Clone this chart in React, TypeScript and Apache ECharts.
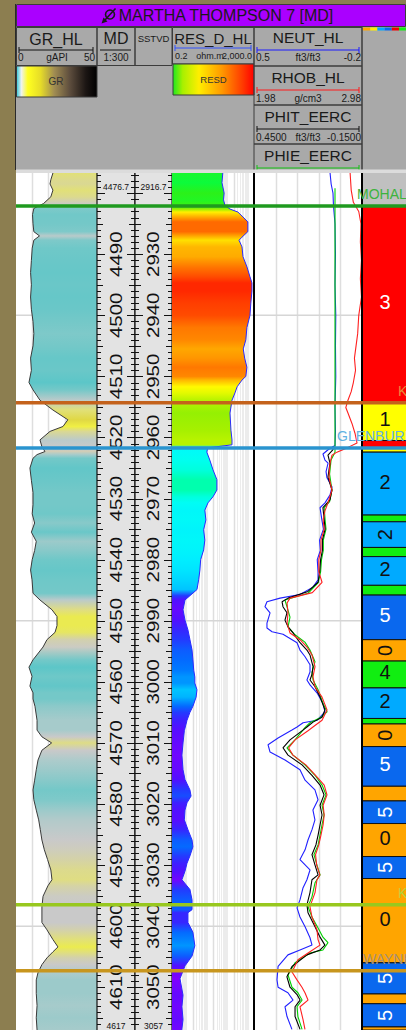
import { useEffect, useRef } from "react";
import * as echarts from "echarts";

const FONT = '"Liberation Sans", Arial, Helvetica, sans-serif';

// ---- depth window (MD, ft) ----
const mdTop = 4476.7;
const mdBase = 4617;
const sstvdShift = 1560; // MD - SSTVD
const mdLabels = [4490, 4500, 4510, 4520, 4530, 4540, 4550, 4560, 4570, 4580, 4590, 4600, 4610];
const sstvdLabels = [2930, 2940, 2950, 2960, 2970, 2980, 2990, 3000, 3010, 3020, 3030, 3040, 3050];
const depthGridLines = [4500, 4550, 4600];

// ---- curves: [MD, value] ----
const grLog: [number, number][] = [
  [4476.7, 22.8], [4477.8, 21.5], [4478.5, 21.0], [4479.5, 22.8], [4480.6, 21.5], [4481.7, 17.0],
  [4482.5, 11.0], [4483.5, 10.2], [4485.0, 10.5], [4486.3, 11.0], [4487.0, 14.5], [4487.7, 11.0],
  [4489.0, 10.0], [4491.0, 9.5], [4493.0, 9.0], [4495.0, 9.5], [4497.0, 9.0], [4499.0, 9.5],
  [4501.0, 10.5], [4503.0, 11.0], [4505.0, 10.5], [4507.0, 9.0], [4509.0, 9.5], [4511.0, 8.0],
  [4512.2, 10.5], [4513.9, 14.8], [4515.5, 22.8], [4517.1, 32.0], [4518.2, 29.0], [4519.0, 21.0],
  [4520.4, 14.8], [4521.5, 16.0], [4522.3, 17.9], [4522.8, 13.0], [4523.4, 10.5], [4525.0, 8.6],
  [4527.0, 9.5], [4529.0, 10.5], [4531.0, 10.5], [4532.5, 10.0], [4534.0, 11.5], [4535.5, 9.5],
  [4537.0, 12.5], [4538.5, 11.5], [4540.0, 10.0], [4541.7, 9.0], [4543.3, 9.9], [4545.5, 10.5],
  [4546.6, 14.8], [4548.2, 22.2], [4549.3, 25.3], [4550.8, 25.3], [4551.9, 24.1], [4553.1, 19.1],
  [4554.3, 16.7], [4556.4, 10.5], [4557.6, 8.0], [4559.1, 9.9], [4560.7, 8.6], [4561.8, 10.5],
  [4562.8, 10.5], [4564.0, 11.7], [4566.3, 13.0], [4567.9, 13.0], [4569.0, 16.0], [4570.0, 22.0],
  [4571.2, 16.0], [4572.8, 13.6], [4574.4, 12.5], [4576.1, 11.5], [4577.7, 10.5], [4579.3, 11.0],
  [4581.0, 12.5], [4582.6, 14.0], [4584.2, 15.0], [4585.9, 16.0], [4587.5, 17.5], [4589.1, 19.5],
  [4590.8, 21.5], [4592.4, 22.2], [4593.4, 19.7], [4595.1, 16.7], [4596.8, 16.0], [4599.4, 16.0],
  [4600.6, 19.1], [4602.2, 22.8], [4603.4, 25.9], [4604.2, 22.8], [4605.2, 19.1], [4606.3, 16.0],
  [4607.6, 13.6], [4608.8, 12.5], [4611.0, 12.5], [4613.0, 13.0], [4615.0, 12.5], [4617.0, 13.0],
];

const resLog: [number, number][] = [
  [4476.7, 60], [4478.3, 55], [4480.0, 70], [4481.1, 65], [4482.0, 77], [4482.6, 135], [4483.1, 330],
  [4483.9, 580], [4484.7, 1000], [4486.3, 1000], [4487.2, 520], [4487.7, 372], [4488.8, 520],
  [4490.4, 580], [4492.1, 914], [4493.7, 1276], [4494.7, 1590], [4496.0, 1590], [4498.0, 1400],
  [4500.0, 1276], [4502.0, 900], [4504.0, 800], [4505.5, 600], [4507.0, 700], [4508.5, 900],
  [4510.0, 800], [4510.6, 520], [4511.7, 300], [4512.7, 236], [4513.9, 169], [4516.0, 135],
  [4518.8, 150], [4520.4, 169], [4521.2, 169], [4521.7, 11], [4522.4, 10], [4523.7, 14], [4525.3, 20],
  [4526.9, 31], [4528.6, 31], [4529.7, 20], [4530.7, 11.4], [4531.9, 8], [4533.5, 9], [4535.1, 7],
  [4536.8, 8], [4538.4, 7], [4540.0, 5], [4541.7, 4.6], [4543.3, 4], [4544.9, 3.3], [4545.9, 1.5],
  [4546.6, 0.86], [4548.2, 0.69], [4549.9, 0.86], [4551.5, 1.2], [4553.1, 1.5], [4554.8, 1.9],
  [4556.4, 2.1], [4558.1, 2.3], [4559.2, 2.6], [4560.2, 2.6], [4561.3, 3.3], [4562.5, 3.0],
  [4564.0, 2.1], [4565.0, 1.5], [4566.3, 1.08], [4568.0, 0.8], [4570.0, 0.69], [4572.0, 0.61],
  [4574.4, 0.69], [4576.0, 0.86], [4577.7, 1.5], [4578.7, 1.7], [4579.8, 1.08], [4581.0, 0.86],
  [4582.6, 0.8], [4584.2, 1.2], [4585.9, 1.9], [4587.0, 2.1], [4588.5, 1.5], [4589.7, 1.08],
  [4591.0, 0.86], [4592.4, 0.61], [4594.0, 1.5], [4595.7, 1.9], [4597.3, 1.9], [4597.8, 1.2],
  [4599.4, 1.2], [4601.0, 2.1], [4603.2, 2.6], [4604.9, 1.9], [4606.5, 0.86], [4608.6, 0.49],
  [4611.3, 0.69], [4613.2, 0.61], [4615.3, 0.69], [4617.0, 0.6],
];

const neutLog: [number, number][] = [
  [4476.7, 0.007], [4478.5, 0.0], [4480.0, -0.012], [4482.0, -0.015], [4485.0, -0.025], [4490.0, -0.028],
  [4495.0, -0.025], [4500.0, -0.03], [4505.0, -0.028], [4510.0, -0.03], [4515.0, -0.025], [4519.0, -0.028],
  [4521.3, -0.025], [4522.0, 0.02], [4522.7, 0.053], [4523.7, 0.04], [4524.2, 0.02], [4525.6, 0.033],
  [4526.6, 0.027], [4528.1, -0.006], [4529.4, 0.007], [4530.7, 0.04], [4531.5, 0.072], [4533.5, 0.06],
  [4535.0, 0.05], [4536.8, 0.075], [4538.5, 0.07], [4540.0, 0.09], [4542.0, 0.085], [4543.3, 0.085],
  [4544.5, 0.118], [4545.7, 0.202], [4546.3, 0.331], [4546.9, 0.416], [4547.7, 0.429], [4548.7, 0.396],
  [4550.4, 0.416], [4551.2, 0.416], [4551.8, 0.383], [4552.2, 0.312], [4552.7, 0.28], [4553.6, 0.221],
  [4554.8, 0.202], [4555.9, 0.169], [4557.2, 0.137], [4558.4, 0.137], [4559.7, 0.157], [4560.5, 0.137],
  [4561.8, 0.092], [4563.5, 0.053], [4564.9, 0.04], [4566.3, 0.092], [4566.7, 0.182], [4567.4, 0.221],
  [4567.9, 0.254], [4569.2, 0.344], [4570.3, 0.409], [4571.5, 0.396], [4572.8, 0.299], [4574.4, 0.202],
  [4576.1, 0.169], [4577.7, 0.105], [4579.3, 0.085], [4581.0, 0.118], [4582.6, 0.105], [4584.2, 0.124],
  [4585.9, 0.15], [4587.5, 0.169], [4589.1, 0.202], [4590.8, 0.137], [4592.4, 0.157], [4593.7, 0.182],
  [4595.7, 0.202], [4597.0, 0.221], [4598.5, 0.202], [4600.1, 0.169], [4601.9, 0.137], [4603.1, 0.124],
  [4603.9, 0.202], [4604.7, 0.28], [4606.6, 0.344], [4608.8, 0.351], [4610.0, 0.344], [4610.9, 0.28],
  [4612.1, 0.247], [4613.2, 0.299], [4614.8, 0.286], [4616.9, 0.254],
];

const rhobLog: [number, number][] = [
  [4476.7, 2.87], [4479.5, 2.88], [4481.5, 2.9], [4483.0, 2.95], [4485.0, 2.97], [4488.0, 2.965],
  [4491.0, 2.975], [4494.0, 2.965], [4497.0, 2.975], [4500.0, 2.95], [4503.0, 2.94], [4505.0, 2.925],
  [4507.0, 2.91], [4509.0, 2.92], [4511.0, 2.9], [4512.5, 2.88], [4513.9, 2.85], [4515.1, 2.83],
  [4516.0, 2.85], [4517.7, 2.887], [4519.3, 2.915], [4520.9, 2.934], [4521.7, 2.841], [4522.4, 2.748],
  [4522.9, 2.702], [4524.2, 2.684], [4526.5, 2.674], [4528.6, 2.702], [4530.7, 2.665], [4532.0, 2.637],
  [4533.5, 2.62], [4535.0, 2.63], [4536.8, 2.6], [4538.5, 2.6], [4540.0, 2.58], [4542.0, 2.58],
  [4543.7, 2.61], [4545.4, 2.52], [4546.3, 2.313], [4547.1, 2.286], [4548.7, 2.295], [4550.4, 2.286],
  [4552.0, 2.313], [4553.1, 2.406], [4554.3, 2.471], [4555.6, 2.517], [4557.5, 2.545], [4559.2, 2.526],
  [4560.8, 2.545], [4562.5, 2.61], [4564.6, 2.656], [4566.3, 2.61], [4567.4, 2.526], [4568.0, 2.48],
  [4569.5, 2.36], [4570.8, 2.3], [4572.0, 2.34], [4573.6, 2.46], [4575.3, 2.55], [4576.9, 2.63],
  [4578.5, 2.656], [4580.2, 2.62], [4581.8, 2.63], [4583.4, 2.62], [4585.1, 2.6], [4586.7, 2.58],
  [4588.3, 2.55], [4590.0, 2.56], [4591.6, 2.59], [4592.4, 2.563], [4594.5, 2.545], [4596.8, 2.498],
  [4598.5, 2.517], [4600.6, 2.563], [4602.2, 2.573], [4603.1, 2.591], [4604.2, 2.498], [4605.5, 2.387],
  [4607.5, 2.332], [4608.8, 2.378], [4610.0, 2.424], [4610.9, 2.452], [4612.1, 2.48], [4613.2, 2.406],
  [4615.3, 2.434], [4616.9, 2.452],
];

const phitLog: [number, number][] = [
  [4521.5, 0.011], [4522.0, 0.011], [4522.9, 0.039], [4524.2, 0.028], [4526.5, 0.039], [4528.6, 0.017],
  [4530.2, 0.028], [4531.5, 0.067], [4533.5, 0.06], [4535.0, 0.055], [4536.8, 0.07], [4538.5, 0.07],
  [4540.0, 0.08], [4542.0, 0.085], [4543.7, 0.094], [4545.2, 0.15], [4546.3, 0.261], [4546.9, 0.294],
  [4547.7, 0.289], [4548.7, 0.267], [4549.9, 0.278], [4551.0, 0.261], [4552.0, 0.233], [4553.6, 0.194],
  [4554.8, 0.156], [4555.6, 0.139], [4557.5, 0.122], [4558.8, 0.128], [4559.7, 0.139], [4560.8, 0.111],
  [4562.5, 0.083], [4564.6, 0.056], [4565.8, 0.072], [4566.6, 0.122], [4567.4, 0.156], [4567.9, 0.178],
  [4569.5, 0.25], [4570.8, 0.289], [4572.0, 0.261], [4573.6, 0.183], [4575.3, 0.128], [4576.9, 0.083],
  [4578.5, 0.061], [4580.2, 0.083], [4581.8, 0.072], [4583.4, 0.083], [4585.1, 0.094], [4586.7, 0.106],
  [4588.3, 0.128], [4590.0, 0.111], [4591.6, 0.094], [4592.4, 0.128], [4594.5, 0.139], [4596.5, 0.156],
  [4597.8, 0.15], [4600.1, 0.111], [4601.8, 0.083], [4603.1, 0.056], [4603.9, 0.083], [4604.7, 0.156],
  [4606.6, 0.239], [4608.3, 0.267], [4610.0, 0.25], [4611.2, 0.211], [4612.1, 0.194], [4613.2, 0.222],
  [4614.8, 0.222], [4616.9, 0.194],
];

const phieLog: [number, number][] = [
  [4479.2, 0.0], [4521.6, 0.0], [4522.4, 0.0], [4523.7, 0.022], [4526.0, 0.03], [4528.6, 0.017],
  [4530.5, 0.03], [4531.5, 0.06], [4533.5, 0.055], [4535.0, 0.05], [4536.8, 0.065], [4538.5, 0.065],
  [4540.0, 0.075], [4542.0, 0.08], [4543.8, 0.094], [4545.5, 0.15], [4546.6, 0.278], [4547.7, 0.267],
  [4549.4, 0.25], [4551.0, 0.261], [4552.3, 0.222], [4553.5, 0.167], [4554.8, 0.139], [4556.7, 0.111],
  [4558.4, 0.128], [4559.7, 0.122], [4561.3, 0.094], [4563.5, 0.067], [4564.9, 0.044], [4565.9, 0.083],
  [4566.7, 0.139], [4567.5, 0.167], [4569.5, 0.222], [4570.8, 0.267], [4572.0, 0.233], [4573.6, 0.167],
  [4575.3, 0.111], [4576.9, 0.072], [4578.5, 0.05], [4580.2, 0.072], [4581.8, 0.061], [4583.4, 0.072],
  [4585.1, 0.083], [4586.7, 0.094], [4588.3, 0.117], [4590.0, 0.1], [4591.6, 0.083], [4592.9, 0.111],
  [4595.2, 0.128], [4596.8, 0.15], [4598.5, 0.128], [4600.3, 0.094], [4601.8, 0.067], [4602.7, 0.039],
  [4603.9, 0.067], [4604.4, 0.139], [4606.0, 0.222], [4608.0, 0.261], [4610.0, 0.239], [4610.9, 0.206],
  [4612.1, 0.183], [4613.2, 0.211], [4614.8, 0.206], [4616.9, 0.183],
];

// ---- zonation (top MD, code; -1 = unzoned) ----
const zoneTop = [
  4476.7, 4482.1, 4514.2, 4520.5, 4521.7, 4522.4, 4532.7, 4533.8, 4538.0, 4539.5, 4544.2, 4545.8, 4553.1,
  4556.6, 4561.0, 4566.0, 4566.9, 4570.6, 4577.1, 4579.5, 4583.2, 4588.6, 4592.2, 4606.0, 4611.1, 4612.7,
  4616.5,
];
const zoneCode = [-1, 3, 1, 3, 1, 2, 4, 2, 4, 2, 4, 5, 0, 4, 2, 4, 0, 5, 0, 5, 0, 5, 0, 5, 0, 5, 0];
const turnedZoneLabels = [7, 12, 16, 19, 21, 23, 25];

// ---- formation tops ----
const topName = ["MOHALL", "K", "GLENBURN", "K", "WAYNE"];
const topDepth = [4482.1, 4514.3, 4521.7, 4596.5, 4607.3];
const topLineColor = ["#1f9a1f", "#c4621c", "#2a94cf", "#98c81e", "#c8961e"];
const topTextColor = ["#3db33d", "#e88a3c", "#62b2e2", "#b4d23c", "#a89078"];
const topLabelX = [357, 398, 337, 398, 363];

// ---- colour ramps ----
const grRamp: [number, string][] = [
  [0, "#3cc4cc"], [8, "#5cc6c8"], [10.5, "#74c8c8"], [13, "#a6cbcb"], [16, "#c9c9c9"], [19, "#d2d0ae"],
  [22, "#dedc86"], [25, "#eaea52"], [30, "#f2f040"], [38, "#a89050"], [50, "#0c0c0c"],
];
const resRamp: [number, string][] = [
  [0, "#9000ff"], [0.1, "#8000ff"], [0.16, "#5010ff"], [0.21, "#2a30ff"], [0.26, "#0070ff"], [0.3, "#00c0ff"],
  [0.35, "#00eeff"], [0.45, "#00fff4"], [0.51, "#00ffd8"], [0.56, "#00ffa0"], [0.6, "#00ff48"],
  [0.64, "#30f014"], [0.72, "#a8f000"], [0.79, "#ffff00"], [0.85, "#ffbb00"], [0.9, "#ff8800"],
  [0.96, "#ff4000"], [1, "#ff0000"],
];
const zonePalette: Record<number, { fill: string; text: string }> = {
  [-1]: { fill: "#c0c0c0", text: "#111" },
  0: { fill: "#ffa500", text: "#111" },
  1: { fill: "#ffff00", text: "#111" },
  2: { fill: "#00aaff", text: "#111" },
  3: { fill: "#ff0000", text: "#fff" },
  4: { fill: "#11ee11", text: "#111" },
  5: { fill: "#0a68ee", text: "#fff" },
};

function hexRgb(h: string) {
  const n = parseInt(h.slice(1), 16);
  return [(n >> 16) & 255, (n >> 8) & 255, n & 255];
}
function rampColor(stops: [number, string][], v: number) {
  if (v <= stops[0][0]) return stops[0][1];
  for (let i = 1; i < stops.length; i++) {
    if (v <= stops[i][0]) {
      const t = (v - stops[i - 1][0]) / (stops[i][0] - stops[i - 1][0]);
      const a = hexRgb(stops[i - 1][1]);
      const b = hexRgb(stops[i][1]);
      const c = a.map((x, k) => Math.round(x + (b[k] - x) * t));
      return `rgb(${c[0]},${c[1]},${c[2]})`;
    }
  }
  return stops[stops.length - 1][1];
}
const grColor = (v: number) => rampColor(grRamp, v);
const resColor = (v: number) => rampColor(resRamp, (Math.log10(v) - Math.log10(0.2)) / 4);

// ---- layout ----
const TRACK_Y = 173;
const TRACK_H = 860;
const tracks = [
  { left: 16, width: 81 }, // GR
  { left: 97, width: 38 }, // MD
  { left: 135, width: 37 }, // SSTVD
  { left: 172, width: 82 }, // resistivity
  { left: 254, width: 108 }, // porosity / density
  { left: 362, width: 44 }, // zonation
];

const vline = (x: number, y1: number, y2: number, stroke: string, lineWidth = 1) => ({
  type: "line", shape: { x1: x, y1, x2: x, y2 }, style: { stroke, lineWidth },
});
const hline = (x1: number, x2: number, y: number, stroke: string, lineWidth = 1) => ({
  type: "line", shape: { x1, y1: y, x2, y2: y }, style: { stroke, lineWidth },
});

// background + grid of a curve track
function trackGrid(xValues: number[], minorValues: number[] = []) {
  return (params: any, api: any) => {
    const cs = params.coordSys;
    const ch: any[] = [
      { type: "rect", shape: { x: cs.x, y: cs.y, width: cs.width, height: cs.height }, style: { fill: "#ffffff" } },
    ];
    minorValues.forEach((v) => {
      const x = Math.round(api.coord([v, mdTop])[0]) + 0.5;
      ch.push(vline(x, cs.y, cs.y + cs.height, "#ececec", 1));
    });
    xValues.forEach((v) => {
      const x = Math.round(api.coord([v, mdTop])[0]) + 0.5;
      ch.push(vline(x, cs.y, cs.y + cs.height, "#dedede", 1.5));
    });
    depthGridLines.forEach((d) => {
      const y = api.coord([xValues[0], d])[1];
      ch.push(hline(cs.x, cs.x + cs.width, y, "#d6d6d6", 1.5));
    });
    return { type: "group", children: ch };
  };
}

// area between a curve and a track edge, shaded by the curve value along depth
function curveFill(log: [number, number][], edgeValue: number, color: (v: number) => string) {
  return (params: any, api: any) => {
    const pts = log.map(([d, v]) => api.coord([v, d]));
    const edge = api.coord([edgeValue, log[0][0]])[0];
    const yA = pts[0][1];
    const yB = pts[pts.length - 1][1];
    const colorStops = log.map(([, v], i) => ({
      offset: Math.min(1, Math.max(0, (pts[i][1] - yA) / (yB - yA))),
      color: color(v),
    }));
    return {
      type: "polygon",
      shape: { points: [[edge, yA], ...pts, [edge, yB]] },
      style: { fill: new echarts.graphic.LinearGradient(0, yA, 0, yB, colorStops, true), lineWidth: 0 },
    };
  };
}

function curve(log: [number, number][], xAxisIndex: number, yAxisIndex: number, color: string, width = 1, z = 4) {
  return {
    type: "line", xAxisIndex, yAxisIndex, data: log.map(([d, v]) => [v, d]),
    showSymbol: false, symbol: "none", silent: true, z, lineStyle: { color, width },
  };
}

// depth index track: ticks each foot, rotated labels each 10 ft
function depthTrack(labels: number[], shift: number, topText: string, baseText: string) {
  return (params: any, api: any) => {
    const cs = params.coordSys;
    const x0 = cs.x;
    const x1 = cs.x + cs.width;
    const cx = x0 + cs.width / 2;
    const ch: any[] = [
      { type: "rect", shape: { x: x0, y: cs.y, width: cs.width, height: cs.height }, style: { fill: "#e3e3e3" } },
    ];
    for (let d = Math.ceil(mdTop); d <= Math.floor(mdBase); d++) {
      const y = Math.round(api.coord([0, d])[1]) + 0.5;
      const len = d % 10 === 0 ? 8 : d % 5 === 0 ? 6 : 4;
      ch.push(hline(x0, x0 + len, y, "#111", 1));
      ch.push(hline(x1 - len, x1, y, "#111", 1));
    }
    ch.push(vline(x0, cs.y, cs.y + cs.height, "#111", 1.2));
    ch.push(vline(x1, cs.y, cs.y + cs.height, "#111", 1.2));
    labels.forEach((l) => {
      const y = api.coord([0, l + shift])[1];
      ch.push({
        type: "text", x: cx, y, rotation: Math.PI / 2, scaleX: 1.28,
        style: { text: String(l), font: `16px ${FONT}`, fill: "#111", align: "center", verticalAlign: "middle" },
      });
    });
    ch.push({
      type: "text", x: cx, y: cs.y + 13.5,
      style: { text: topText, font: `8.5px ${FONT}`, fill: "#111", align: "center", verticalAlign: "middle" },
    });
    ch.push({
      type: "text", x: cx, y: 1026,
      style: { text: baseText, font: `8.5px ${FONT}`, fill: "#111", align: "center", verticalAlign: "middle" },
    });
    return { type: "group", children: ch };
  };
}

function headerGraphics() {
  const els: any[] = [];
  const rect = (x: number, y: number, w: number, h: number, fill: any, stroke = "none", lw = 1) =>
    els.push({ type: "rect", shape: { x, y, width: w, height: h }, style: { fill, stroke, lineWidth: lw }, silent: true });
  const txt = (x: number, y: number, text: string, size: number, align = "center", fill = "#1a1a1a") =>
    els.push({
      type: "text", x, y, silent: true,
      style: { text, font: `${size}px ${FONT}`, fill, align, verticalAlign: "middle" },
    });
  const ln = (x1: number, y1: number, x2: number, y2: number, stroke: string, lw = 1) =>
    els.push({ type: "line", shape: { x1, y1, x2, y2 }, style: { stroke, lineWidth: lw }, silent: true });
  const scale = (x1: number, x2: number, y: number, color: string) => {
    ln(x1, y, x2, y, color, 1);
    ln(x1, y - 3, x1, y + 3, color, 1);
    ln(x2, y - 3, x2, y + 3, color, 1);
  };
  const border = "#3c3c3c";

  // frame
  rect(0, 0, 16, 1030, "#8c7e50");
  rect(0, 0, 406, 4, "#8c7e50");
  rect(16, 4, 390, 169, "#a9a9a9");
  ln(15.5, 4, 15.5, 170, "#2a2a2a", 1);

  // title
  rect(16.5, 4.5, 389, 22, "#aa00ff", border, 1);
  els.push({ type: "circle", shape: { cx: 110, cy: 14.5, r: 4.5 }, style: { fill: "none", stroke: "#1a1a1a", lineWidth: 1.6 }, silent: true });
  ln(104.5, 20.5, 115.5, 8.5, "#1a1a1a", 1.6);
  els.push({ type: "polygon", shape: { points: [[101.5, 23.5], [107.5, 21.5], [103.5, 17.5]] }, style: { fill: "#1a1a1a" }, silent: true });
  txt(226, 15.5, "MARTHA THOMPSON 7 [MD]", 16);

  // GR
  rect(16.5, 27.5, 80.5, 38, "none", border);
  txt(56, 39.5, "GR_HL", 16);
  scale(19, 93, 50, "#111");
  txt(18, 57.5, "0", 10, "left");
  txt(57, 57.5, "gAPI", 10);
  txt(95, 57.5, "50", 10, "right");
  rect(16.5, 66, 80.5, 31, {
    type: "linear", x: 0, y: 0, x2: 1, y2: 0,
    colorStops: [
      { offset: 0, color: "#30c8d8" }, { offset: 0.06, color: "#eef2f2" }, { offset: 0.14, color: "#ffff20" },
      { offset: 0.3, color: "#e6dc28" }, { offset: 0.47, color: "#a08c52" }, { offset: 0.66, color: "#5e4e3e" },
      { offset: 0.86, color: "#1c1614" }, { offset: 1, color: "#000000" },
    ],
  }, border);
  txt(56, 81.5, "GR", 10, "center", "#333");

  // MD / SSTVD
  rect(97, 27.5, 38, 38, "none", border);
  txt(116, 38, "MD", 16);
  ln(100, 50, 131, 50, "#111", 1);
  txt(116, 57.5, "1:300", 10);
  rect(135, 27.5, 37, 38, "none", border);
  txt(153.5, 38.5, "SSTVD", 9.5);

  // resistivity
  rect(172.5, 27.5, 81.5, 36.5, "none", border);
  txt(213, 38, "RES_D_HL", 15);
  scale(175, 251, 48, "#3050ff");
  txt(175, 56, "0.2", 9, "left");
  txt(210, 56, "ohm.m", 9);
  txt(252, 56, "2,000.0", 9, "right");
  rect(173, 64, 81, 31, {
    type: "linear", x: 0, y: 0, x2: 1, y2: 0,
    colorStops: [
      { offset: 0, color: "#20e820" }, { offset: 0.12, color: "#a8f000" }, { offset: 0.32, color: "#ffee00" },
      { offset: 0.6, color: "#ff9a00" }, { offset: 0.86, color: "#ff3a00" }, { offset: 1, color: "#ff0000" },
    ],
  }, border);
  txt(213.5, 79.5, "RESD", 9.5, "center", "#333");

  // porosity / density
  rect(254, 27.5, 108, 38.5, "none", border);
  txt(308, 37.5, "NEUT_HL", 15.5);
  scale(257, 359, 50, "#1a1aff");
  txt(256, 57.5, "0.5", 10, "left");
  txt(308, 57.5, "ft3/ft3", 10);
  txt(361, 57.5, "-0.2", 10, "right");
  rect(254, 66, 108, 39, "none", border);
  txt(308, 77, "RHOB_HL", 15.5);
  scale(257, 359, 90, "#ff1a1a");
  txt(256, 98, "1.98", 10, "left");
  txt(308, 98, "g/cm3", 10);
  txt(361, 98, "2.98", 10, "right");
  rect(254, 105, 108, 39, "none", border);
  txt(308, 116.5, "PHIT_EERC", 15.5);
  scale(257, 359, 129, "#111");
  txt(256, 137, "0.4500", 10, "left");
  txt(308, 137, "ft3/ft3", 10);
  txt(361, 137, "-0.1500", 10, "right");
  rect(254, 144, 108, 27, "none", border);
  txt(308, 155.5, "PHIE_EERC", 15.5);
  scale(257, 359, 168, "#10c010");

  // zonation header
  ln(362, 27, 362, 170, border, 1);
  const legend = ["#ffa500", "#ffee00", "#00aaff", "#0a68ee", "#ee0000", "#11ee11"];
  legend.forEach((c, i) => rect(363 + i * 7.2, 27.5, 7.2, 3, c));

  // strip between header and tracks
  rect(16, 169.5, 390, 3.5, "#dcdcdc");
  return els;
}

function buildOption(): any {
  const grid = tracks.map((t) => ({ left: t.left, top: TRACK_Y, width: t.width, height: TRACK_H }));
  const yAxis = tracks.map((_, i) => ({
    type: "value", gridIndex: i, min: mdTop, max: mdBase, inverse: true, show: false,
  }));
  const xAxis = [
    { type: "value", gridIndex: 0, min: 0, max: 50, show: false }, // GR
    { type: "value", gridIndex: 1, min: 0, max: 1, show: false }, // MD
    { type: "value", gridIndex: 2, min: 0, max: 1, show: false }, // SSTVD
    { type: "log", gridIndex: 3, min: 0.2, max: 2000, logBase: 10, show: false }, // RES_D
    { type: "value", gridIndex: 4, min: -0.2, max: 0.5, inverse: true, show: false }, // NEUT
    { type: "value", gridIndex: 4, min: 1.98, max: 2.98, show: false }, // RHOB
    { type: "value", gridIndex: 4, min: -0.15, max: 0.45, inverse: true, show: false }, // PHIT / PHIE
    { type: "value", gridIndex: 5, min: 0, max: 1, show: false }, // zones
  ];

  const resMinor: number[] = [];
  const resMajor: number[] = [];
  for (let k = -1; k <= 3; k++) {
    for (let m = 1; m <= 9; m++) {
      const v = m * Math.pow(10, k);
      if (v <= 0.2 || v >= 2000) continue;
      if (m === 2) resMajor.push(v);
      else resMinor.push(v);
    }
  }

  const series: any[] = [
    // GR track
    { type: "custom", xAxisIndex: 0, yAxisIndex: 0, data: [[0, mdTop]], silent: true, z: 1, renderItem: trackGrid([10, 20, 30, 40]) },
    { type: "custom", xAxisIndex: 0, yAxisIndex: 0, data: [[0, mdTop]], silent: true, z: 2, renderItem: curveFill(grLog, 50, grColor) },
    curve(grLog, 0, 0, "#3a3a3a", 1),
    // depth tracks
    { type: "custom", xAxisIndex: 1, yAxisIndex: 1, data: [[0, mdTop]], silent: true, z: 2, renderItem: depthTrack(mdLabels, 0, "4476.7", "4617") },
    { type: "custom", xAxisIndex: 2, yAxisIndex: 2, data: [[0, mdTop]], silent: true, z: 2, renderItem: depthTrack(sstvdLabels, sstvdShift, "2916.7", "3057") },
    // resistivity
    { type: "custom", xAxisIndex: 3, yAxisIndex: 3, data: [[1, mdTop]], silent: true, z: 1, renderItem: trackGrid(resMajor, resMinor) },
    { type: "custom", xAxisIndex: 3, yAxisIndex: 3, data: [[1, mdTop]], silent: true, z: 2, renderItem: curveFill(resLog, 0.2, resColor) },
    curve(resLog, 3, 3, "#2a2aff", 1),
    // porosity / density
    { type: "custom", xAxisIndex: 4, yAxisIndex: 4, data: [[0, mdTop]], silent: true, z: 1, renderItem: trackGrid([0.36, 0.22, 0.08, -0.06]) },
    curve(neutLog, 4, 4, "#2020ff", 1.1),
    curve(phieLog, 6, 4, "#00d000", 1.1),
    curve(phitLog, 6, 4, "#000000", 1.1),
    curve(rhobLog, 5, 4, "#ff2020", 1.1),
    // track borders
    {
      type: "custom", xAxisIndex: 4, yAxisIndex: 4, data: [[0, mdTop]], silent: true, z: 6,
      renderItem: (params: any) => {
        const cs = params.coordSys;
        return {
          type: "group",
          children: [
            vline(cs.x, cs.y, cs.y + cs.height, "#000", 2),
            vline(cs.x + cs.width, cs.y, cs.y + cs.height, "#000", 2),
          ],
        };
      },
    },
    // zonation
    {
      type: "custom", xAxisIndex: 7, yAxisIndex: 5, silent: true, z: 3,
      data: zoneTop.map((t, i) => [0.5, t, i]),
      renderItem: (params: any, api: any) => {
        const i = api.value(2);
        const top = zoneTop[i];
        const base = i + 1 < zoneTop.length ? zoneTop[i + 1] : mdBase;
        const p0 = api.coord([0, top]);
        const p1 = api.coord([1, base]);
        const code = zoneCode[i];
        const pal = zonePalette[code];
        const h = p1[1] - p0[1];
        const ch: any[] = [
          {
            type: "rect", shape: { x: p0[0] + 0.5, y: p0[1], width: p1[0] - p0[0], height: h },
            style: { fill: pal.fill, stroke: code < 0 ? "none" : "#111", lineWidth: 1 },
          },
        ];
        if (code >= 0 && h >= 18) {
          const turned = turnedZoneLabels.includes(i);
          ch.push({
            type: "text", x: (p0[0] + p1[0]) / 2 + 1, y: (p0[1] + p1[1]) / 2 - (turned ? 0 : 2),
            rotation: turned ? Math.PI / 2 : 0,
            style: { text: String(code), font: `20px ${FONT}`, fill: pal.text, align: "center", verticalAlign: "middle" },
          });
        }
        return { type: "group", children: ch };
      },
    },
    // formation tops across all tracks
    {
      type: "custom", xAxisIndex: 0, yAxisIndex: 0, silent: true, z: 10,
      data: topDepth.map((d, i) => [0, d, i]),
      renderItem: (params: any, api: any) => {
        const i = api.value(2);
        const y = api.coord([0, topDepth[i]])[1];
        return {
          type: "group",
          children: [
            hline(16, 406, y, topLineColor[i], 3.5),
            {
              type: "text", x: topLabelX[i], y: y - 11.5,
              style: { text: topName[i], font: `14px ${FONT}`, fill: topTextColor[i], align: "left", verticalAlign: "middle" },
            },
          ],
        };
      },
    },
  ];

  return {
    animation: false,
    backgroundColor: "#ffffff",
    grid,
    xAxis,
    yAxis,
    series,
    graphic: { elements: headerGraphics() },
  };
}

export default function App() {
  const ref = useRef<HTMLDivElement>(null);
  useEffect(() => {
    document.body.style.margin = "0";
    const chart = echarts.init(ref.current as HTMLDivElement, null, { renderer: "svg", width: 406, height: 1030 });
    chart.setOption(buildOption());
    return () => chart.dispose();
  }, []);
  return <div ref={ref} style={{ position: "absolute", left: 0, top: 0, width: 406, height: 1030 }} />;
}
